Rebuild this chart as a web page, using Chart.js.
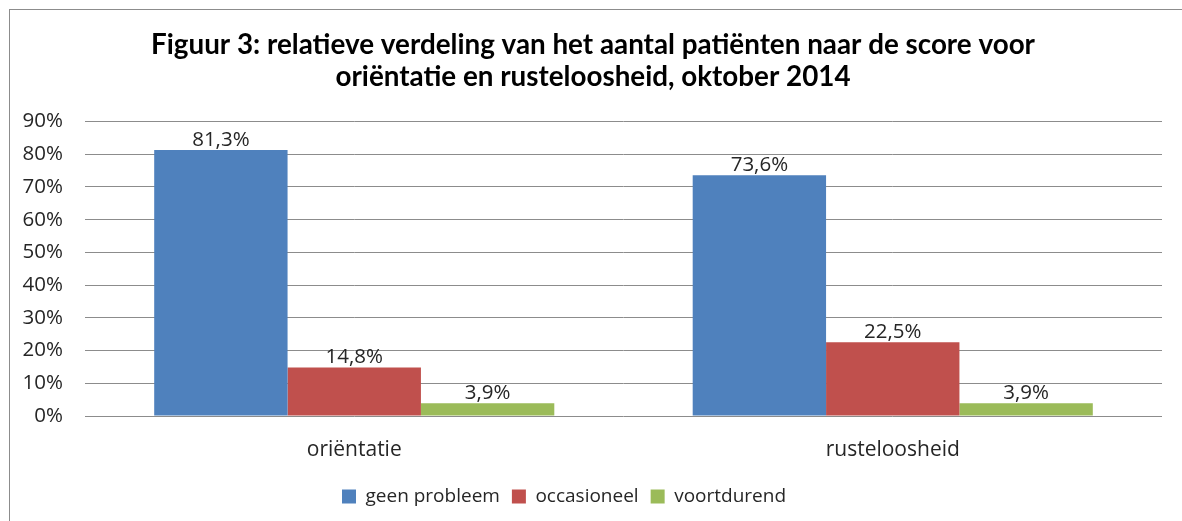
<!DOCTYPE html>
<html>
<head>
<meta charset="utf-8">
<script src="https://cdn.jsdelivr.net/npm/chart.js@4.4.1/dist/chart.umd.min.js"></script>
<style>
	html, body { margin: 0; padding: 0; background: #fff; }
	#wrap { width: 1182px; height: 521px; }
</style>
</head>
<body>
<div id="wrap"><canvas id="chart" width="1182" height="521"></canvas></div>
<script>
var categories = ['oriëntatie', 'rusteloosheid'];
var seriesNames = ['geen probleem', 'occasioneel', 'voortdurend'];
var geenProbleem = [81.3, 73.6];
var occasioneel = [14.8, 22.5];
var voortdurend = [3.9, 3.9];
var yTickMax = 90;
var yTickStep = 10;
var titleLines = [
	'Figuur 3: relatieve verdeling van het aantal patiënten naar de score voor',
	'oriëntatie en rusteloosheid, oktober 2014'
];

(function () {
	'use strict';

	var textFont = '"Open Sans", "DejaVu Sans", sans-serif';

	// comma as decimal separator, like the original
	function fmtPct(v) {
		return v.toFixed(1).replace('.', ',') + '%';
	}

	function nudge(box, dx) {
		if (box && !box._nudged) {
			box.left += dx;
			box.right += dx;
			box._nudged = true;
		}
	}

	var frame = {
		id: 'frame',
		beforeDraw: function (chart) {
			var ctx = chart.ctx;
			ctx.save();
			ctx.fillStyle = '#fff';
			ctx.fillRect(0, 0, chart.width, chart.height);
			ctx.strokeStyle = '#8c8c8c';
			ctx.lineWidth = 1;
			ctx.strokeRect(9.5, 9.5, chart.width + 20, chart.height + 20);
			ctx.restore();

			// title is centred on the whole frame, legend a bit left of centre
			nudge(chart.titleBlock, 12);
			nudge(chart.legend, -17);
		}
	};

	var barLabels = {
		id: 'barLabels',
		afterDatasetsDraw: function (chart) {
			var ctx = chart.ctx;
			ctx.save();
			ctx.font = '20.5px ' + textFont;
			ctx.fillStyle = '#262626';
			ctx.textAlign = 'center';
			ctx.textBaseline = 'middle';
			chart.data.datasets.forEach(function (ds, i) {
				var meta = chart.getDatasetMeta(i);
				meta.data.forEach(function (bar, j) {
					ctx.fillText(fmtPct(ds.data[j]), bar.x, bar.y - 10);
				});
			});
			ctx.restore();
		}
	};

	new Chart(document.getElementById('chart'), {
		type: 'bar',
		data: {
			labels: categories,
			datasets: [
				{ label: seriesNames[0], data: geenProbleem, backgroundColor: '#4f81bd' },
				{ label: seriesNames[1], data: occasioneel, backgroundColor: '#c0504d' },
				{ label: seriesNames[2], data: voortdurend, backgroundColor: '#9bbb59' }
			]
		},
		options: {
			responsive: false,
			animation: false,
			events: [],
			layout: { padding: { top: 0, right: 20, bottom: 5, left: 0 } },
			datasets: {
				bar: { categoryPercentage: 0.743, barPercentage: 1.0 }
			},
			scales: {
				x: {
					grid: { display: false, drawTicks: false },
					border: { display: false },
					ticks: {
						padding: 21,
						color: '#262626',
						font: { family: textFont, size: 21 }
					},
					afterFit: function (scale) { scale.height = 59; }
				},
				y: {
					min: 0,
					max: yTickMax,
					grid: { color: '#8c8c8c', drawTicks: false },
					border: { display: false },
					ticks: {
						stepSize: yTickStep,
						padding: 22,
						color: '#262626',
						font: { family: textFont, size: 20.5 },
						callback: function (v) { return v + '%'; }
					},
					afterFit: function (scale) { scale.width = 85; }
				}
			},
			plugins: {
				title: {
					display: true,
					text: titleLines,
					color: '#000',
					font: { family: 'Lato, "Open Sans", sans-serif', size: 27.8, weight: 'bold', lineHeight: 1.16 },
					padding: { top: 29, bottom: 28 }
				},
				legend: {
					position: 'bottom',
					labels: {
						boxWidth: 14,
						boxHeight: 14,
						padding: 12,
						color: '#262626',
						font: { family: textFont, size: 19 }
					}
				},
				tooltip: { enabled: false }
			}
		},
		plugins: [frame, barLabels]
	});
})();
</script>
</body>
</html>
